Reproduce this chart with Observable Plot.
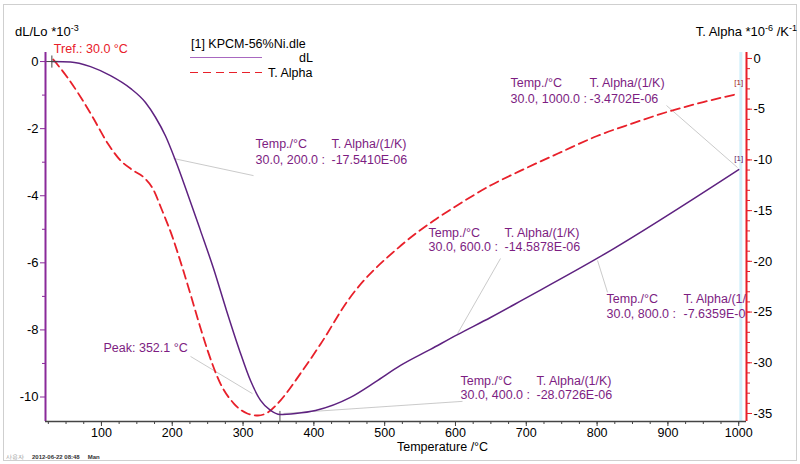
<!DOCTYPE html>
<html>
<head>
<meta charset="utf-8">
<script src="https://cdn.jsdelivr.net/npm/d3@7"></script>
<script src="https://cdn.jsdelivr.net/npm/@observablehq/plot@0.6"></script>
<style>
  html, body { margin: 0; padding: 0; background: #fff; }
  #chart { width: 800px; height: 464px; }
</style>
</head>
<body>
<div id="chart"></div>
<script>
// ---- data ----
// dL curve (dL/Lo *10^-3) vs temperature
const dlTemp = [30, 56.3, 84.6, 112.8, 141.0, 162.2, 176.3, 190.5, 204.6, 221.5, 239.9, 258.3, 276.6, 295.0, 310.5, 324.7, 338.8, 352.1, 374.1, 402.3, 451.7, 487.0, 522.4, 564.7, 602.9, 649.5, 696.1, 804.8, 1000];
const dlValue = [0, -0.01, -0.15, -0.42, -0.80, -1.22, -1.66, -2.22, -2.95, -3.93, -5.04, -6.17, -7.42, -8.61, -9.51, -10.10, -10.40, -10.52, -10.49, -10.40, -10.01, -9.55, -9.06, -8.58, -8.14, -7.63, -7.09, -5.81, -3.22];

// T. Alpha curve (*10^-6 /K) vs temperature
const alphaTemp = [32, 52, 71, 88, 109, 127, 145, 160, 174, 184, 200, 212, 226, 240, 250, 268, 287, 306, 321, 335, 353, 381, 410, 448, 523, 569, 600, 650, 700, 750, 800, 850, 900, 950, 1000];
const alphaValue = [-0.1, -1.87, -3.85, -5.82, -8.38, -10.06, -11.05, -11.74, -13.02, -14.69, -17.54, -20.1, -23.3, -26.6, -28.8, -32.05, -34.02, -35.0, -35.2, -34.9, -33.7, -31.07, -28.1, -23.87, -18.44, -16.0, -14.59, -12.5, -10.8, -9.2, -7.64, -6.4, -5.25, -4.3, -3.47];

// axes
const xDomain = [21, 1011];
const leftDomain = [-10.73, 0.27];
const rightDomain = [-35.79, 0.59];
const xTicks = [100, 200, 300, 400, 500, 600, 700, 800, 900, 1000];
const xMinorTicks = d3.range(25, 1001, 25);
const leftTicks = [0, -2, -4, -6, -8, -10];
const leftMinorTicks = [-1, -3, -5, -7, -9];
const rightTicks = [0, -5, -10, -15, -20, -25, -30, -35];
const rightMinorTicks = d3.range(0, -36, -1);

// cursor annotations (position in temperature / dL units)
const noteTemp = [317.6, 424.9, 317.6, 424.9, 677.7, 789.3, 677.7, 789.3, 561.9, 669.2, 561.9, 669.2, 813.3, 922.0, 813.3, 922.0, 607.1, 714.4, 607.1, 714.4, 102.9];
const noteDl = [-2.47, -2.47, -2.93, -2.93, -0.65, -0.65, -1.12, -1.12, -5.10, -5.10, -5.54, -5.54, -7.09, -7.09, -7.53, -7.53, -9.51, -9.51, -9.94, -9.94, -8.55];
const noteText = ["Temp./°C", "T. Alpha/(1/K)", "30.0, 200.0 :", "-17.5410E-06",
  "Temp./°C", "T. Alpha/(1/K)", "30.0, 1000.0 :", "-3.4702E-06",
  "Temp./°C", "T. Alpha/(1/K)", "30.0, 600.0 :", "-14.5878E-06",
  "Temp./°C", "T. Alpha/(1/K)", "30.0, 800.0 :", "-7.6359E-06",
  "Temp./°C", "T. Alpha/(1/K)", "30.0, 400.0 :", "-28.0726E-06",
  "Peak: 352.1 °C"];

// leader lines
const leadT1 = [201.8, 898, 663.6, 800.6, 357.1, 225.8];
const leadV1 = [-2.89, -1.31, -5.87, -5.93, -10.49, -8.79];
const leadT2 = [314.8, 998.3, 602.9, 814.7, 609.9, 313.3];
const leadV2 = [-3.40, -3.16, -8.11, -6.88, -10.13, -9.90];

const peakTemp = 352.1;
const trefTemp = 30;

// ---- helpers ----
const toLeft = d3.scaleLinear().domain(rightDomain).range(leftDomain);
const dlData = dlTemp.map((t, i) => ({T: t, v: dlValue[i]}));
const alphaData = alphaTemp.map((t, i) => ({T: t, v: toLeft(alphaValue[i])}));
const notes = noteText.map((s, i) => ({T: noteTemp[i], v: noteDl[i], text: s}));
const leaders = leadT1.map((t, i) => ({x1: t, y1: leadV1[i], x2: leadT2[i], y2: leadV2[i]}));

const purpleLine = "#5e2280";
const purpleAxis = "#8a2a9a";
const purpleText = "#7d1d82";
const red = "#e8202a";
const font = "'Liberation Sans', Arial, Helvetica, sans-serif";

const endDl = dlData[dlData.length - 1];
const endAlpha = alphaData[alphaData.length - 1];

const chart = Plot.plot({
  width: 800,
  height: 464,
  marginLeft: 45,
  marginRight: 54,
  marginTop: 52,
  marginBottom: 43,
  style: {fontFamily: font, fontSize: "13px", background: "#fff", color: "#000", overflow: "visible"},
  x: {domain: xDomain},
  y: {domain: leftDomain},
  marks: [
    Plot.ruleX([endDl.T + 3], {stroke: "#d2f0fb", strokeWidth: 3}),
    Plot.link(leaders, {x1: "x1", y1: "y1", x2: "x2", y2: "y2", stroke: "#c4c4c4", strokeWidth: 0.9}),
    Plot.ruleX([peakTemp], {y1: -10.43, y2: leftDomain[0], stroke: "#555", strokeWidth: 1}),
    Plot.line(alphaData, {x: "T", y: "v", stroke: red, strokeWidth: 1.8, strokeDasharray: "9,5", curve: "monotone-x"}),
    Plot.line(dlData, {x: "T", y: "v", stroke: purpleLine, strokeWidth: 1.5, curve: "monotone-x"}),
    Plot.dot([{T: trefTemp, v: 0}], {x: "T", y: "v", symbol: "plus", r: 4, stroke: "#444", strokeWidth: 1}),
    // axis lines
    Plot.ruleX([xDomain[0]], {stroke: purpleAxis, strokeWidth: 2}),
    Plot.ruleX([xDomain[1]], {stroke: red, strokeWidth: 2}),
    Plot.ruleY([leftDomain[0]], {stroke: "#444", strokeWidth: 1.5}),
    // x axis
    Plot.axisX({ticks: xTicks, tickSize: 5, tickPadding: 2, fontSize: 12.5, tickFormat: d => String(d), label: null, stroke: "#444", fill: "#000"}),
    Plot.axisX({ticks: xMinorTicks, tickSize: 3, tickFormat: () => "", label: null, stroke: "#444"}),
    // left axis
    Plot.axisY({ticks: leftTicks, anchor: "left", tickSize: 5, tickPadding: 2, tickFormat: d => String(d), label: null, stroke: purpleAxis, fill: "#000"}),
    Plot.axisY({ticks: leftMinorTicks, anchor: "left", tickSize: 3, tickFormat: () => "", label: null, stroke: purpleAxis}),
    // right axis (T. Alpha)
    Plot.axisY({ticks: rightTicks.map(toLeft), anchor: "right", tickSize: 5, tickPadding: 2,
      tickFormat: v => String(Math.round(toLeft.invert(v))), label: null, stroke: red, fill: "#000"}),
    Plot.axisY({ticks: rightMinorTicks.map(toLeft), anchor: "right", tickSize: 3, tickFormat: () => "", label: null, stroke: red}),
    // annotations
    Plot.text(notes, {x: "T", y: "v", text: "text", textAnchor: "start", fill: purpleText, fontSize: 12.5, clip: true}),
    Plot.text([{T: trefTemp, v: 0}], {x: "T", y: "v", text: () => "Tref.: 30.0 °C", textAnchor: "start", dx: 2, dy: -13, fill: red, fontSize: 12.5}),
    Plot.text([endAlpha], {x: "T", y: "v", text: () => "[1]", dy: -11, fill: "#a02020", fontSize: 8}),
    Plot.text([endDl], {x: "T", y: "v", text: () => "[1]", dy: -11, fill: "#602060", fontSize: 8})
  ]
});

document.getElementById("chart").appendChild(chart);

// ---- frame, titles, legend, footer ----
const svg = d3.select(chart);
svg.insert("rect", ":first-child")
  .attr("x", 3.5).attr("y", 4.5).attr("width", 793).attr("height", 456)
  .attr("fill", "none").attr("stroke", "#cfcfcf");

const g = svg.append("g").attr("font-family", font).attr("text-anchor", "start");

const t1 = g.append("text").attr("x", 15).attr("y", 36).attr("font-size", 13).attr("fill", "#000");
t1.append("tspan").text("dL/Lo *10");
t1.append("tspan").attr("dy", -5).attr("font-size", 9).text("-3");

const t2 = g.append("text").attr("x", 797).attr("y", 36).attr("font-size", 13).attr("fill", "#000").attr("text-anchor", "end");
t2.append("tspan").text("T. Alpha *10");
t2.append("tspan").attr("dy", -5).attr("font-size", 9).text("-6");
t2.append("tspan").attr("dy", 5).text(" /K");
t2.append("tspan").attr("dy", -5).attr("font-size", 9).text("-1");

g.append("text").attr("x", 397).attr("y", 451).attr("font-size", 12.5).attr("fill", "#000").text("Temperature /°C");

// legend
g.append("text").attr("x", 191).attr("y", 48).attr("font-size", 12.5).attr("fill", "#000").text("[1] KPCM-56%Ni.dle");
g.append("line").attr("x1", 190).attr("x2", 262).attr("y1", 57.5).attr("y2", 57.5).attr("stroke", "#a868c0").attr("stroke-width", 1);
g.append("text").attr("x", 313).attr("y", 62).attr("font-size", 12.5).attr("text-anchor", "end").attr("fill", "#000").text("dL");
g.append("line").attr("x1", 190).attr("x2", 262).attr("y1", 72.5).attr("y2", 72.5).attr("stroke", red).attr("stroke-width", 1).attr("stroke-dasharray", "8,5");
g.append("text").attr("x", 268).attr("y", 77).attr("font-size", 12.5).attr("fill", "#000").text("T. Alpha");

// footer
const f = g.append("text").attr("x", 6).attr("y", 459).attr("font-size", 6).attr("fill", "#333");
f.append("tspan").attr("fill", "#999").text("사용자");
f.append("tspan").attr("dx", 8).attr("font-weight", "bold").text("2012-06-22 08:48");
f.append("tspan").attr("dx", 8).attr("font-weight", "bold").text("Man");
</script>
</body>
</html>
